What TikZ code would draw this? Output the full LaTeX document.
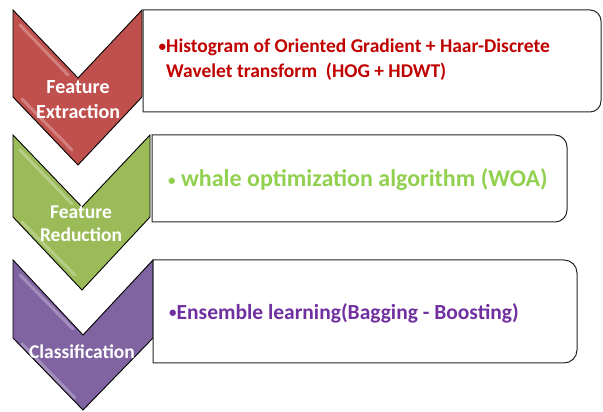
\documentclass[tikz,border=0pt]{standalone}
\usepackage{fontspec}
\setmainfont{Carlito}
\definecolor{chred}{HTML}{C0504D}
\definecolor{chgreen}{HTML}{9BBB59}
\definecolor{chpurple}{HTML}{8064A2}
\definecolor{txred}{HTML}{C00000}
\definecolor{txgreen}{HTML}{92D050}
\definecolor{txpurple}{HTML}{7030A0}
\newcommand{\smbul}{{\fontsize{15}{15}\selectfont\raisebox{1.8pt}{•}}}
\tikzset{
  chev/.style={draw=black, line width=0.9pt, line join=miter},
  gloss/.style={draw=white, line width=3pt, opacity=0.28, line cap=round},
  infobox/.style={draw=black!85, line width=1pt, fill=white},
  chlabel/.style={text=white, font=\bfseries\fontsize{20}{25}\selectfont, align=center, inner sep=0pt},
  infotext/.style={font=\bfseries\fontsize{19.5}{25}\selectfont, align=left, anchor=west, inner sep=0pt}
}
\begin{document}
\begin{tikzpicture}[x=1pt,y=1pt]
\useasboundingbox (0,0) rectangle (603,412);
% chevrons
\fill[chred] (13,402) -- (78,334) -- (142,402) -- (142,315) -- (78,247) -- (13,315) -- cycle;
\draw[gloss] (20,387) -- (68,337);
\draw[gloss] (22,313) -- (72,262);
\draw[chev] (13,402) -- (78,334) -- (142,402) -- (142,315) -- (78,247) -- (13,315) -- cycle;

\fill[chgreen] (13,277) -- (82,205) -- (150,277) -- (150,195) -- (82,122) -- (13,195) -- cycle;
\draw[gloss] (20,262) -- (72,208);
\draw[gloss] (22,190) -- (75,137);
\draw[chev] (13,277) -- (82,205) -- (150,277) -- (150,195) -- (82,122) -- (13,195) -- cycle;

\fill[chpurple] (13,152) -- (83,77) -- (153,152) -- (153,74) -- (83,2) -- (13,74) -- cycle;
\draw[gloss] (20,137) -- (73,83);
\draw[gloss] (22,68) -- (75,14);
\draw[chev] (13,152) -- (83,77) -- (153,152) -- (153,74) -- (83,2) -- (13,74) -- cycle;

% boxes
\draw[infobox] (143,300) -- (143,402) -- (590,402) arc[start angle=90,end angle=0,radius=11] -- (601,311) arc[start angle=0,end angle=-90,radius=11] -- cycle;
\draw[infobox] (152,190) -- (152,277) -- (555,277) arc[start angle=90,end angle=0,radius=12] -- (567,202) arc[start angle=0,end angle=-90,radius=12] -- cycle;
\draw[infobox] (153,49) -- (153,152) -- (564,152) arc[start angle=90,end angle=0,radius=13] -- (577,62) arc[start angle=0,end angle=-90,radius=13] -- cycle;

% chevron labels
\node[chlabel] (l1) at (78,312) {Feature\\Extraction};
\node[chlabel, font=\bfseries\fontsize{19.5}{23}\selectfont] (l2) at (81,188.5) {Feature\\Reduction};
\node[chlabel, font=\bfseries\fontsize{19.5}{23}\selectfont] (l3) at (82,60) {Classification};

% box texts
\node[infotext, text=txred, anchor=north west] (t1) at (166,373) {\llap{\smbul}Histogram of Oriented Gradient + Haar-Discrete\\Wavelet transform~ (HOG + HDWT)};
\node[infotext, text=txgreen, font=\bfseries\fontsize{24}{25}\selectfont] (t2) at (168,232) {\smbul\ whale optimization algorithm (WOA)};
\node[infotext, text=txpurple, font=\bfseries\fontsize{21.5}{25}\selectfont] (t3) at (169,99) {\smbul Ensemble learning(Bagging - Boosting)};
\end{tikzpicture}
\end{document}
